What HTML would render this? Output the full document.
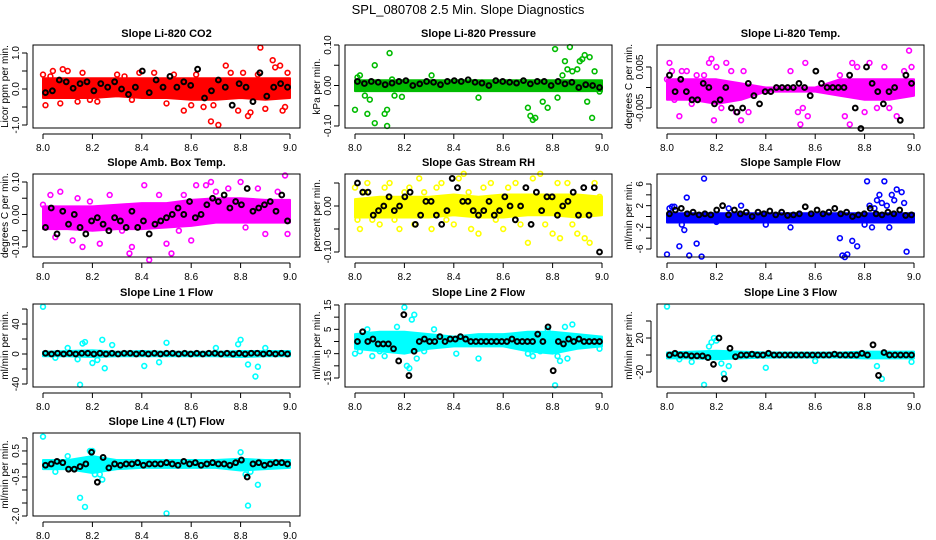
<!DOCTYPE html>
<html><head><meta charset="utf-8"><style>
body{margin:0;background:#fff;}
svg{display:block;font-family:"Liberation Sans",sans-serif;}
</style></head><body>
<svg id="c" width="936" height="540" viewBox="0 0 936 540">
<rect width="936" height="540" fill="#fff"/>
<text x="468" y="14" text-anchor="middle" font-size="13">SPL_080708  2.5 Min. Slope Diagnostics</text>
</svg>
<script>
// ---- data ----
const xTicks=[8.0,8.2,8.4,8.6,8.8,9.0];
const xTickLabels=["8.0","8.2","8.4","8.6","8.8","9.0"];

const co2X=[8.0,8.01,8.03,8.04,8.07,8.08,8.1,8.14,8.16,8.19,8.22,8.3,8.33,8.36,8.39,8.45,8.5,8.53,8.57,8.6,8.62,8.65,8.68,8.69,8.71,8.74,8.76,8.79,8.81,8.83,8.84,8.87,8.88,8.9,8.93,8.94,8.96,8.97,8.98,8.99];
const co2Y=[0.4,-0.45,0.35,0.5,-0.4,0.55,0.5,-0.35,0.45,-0.3,-0.35,0.4,0.35,-0.3,0.45,0.45,-0.4,0.4,-0.6,-0.45,0.4,-0.5,-0.9,-0.45,-1.0,0.65,0.45,-0.6,0.45,-0.75,-0.65,0.4,1.15,-0.55,0.8,0.6,0.65,-0.6,-0.5,0.45];
const co2Black=[-0.1,-0.05,0.25,0.2,0.02,0.15,0.2,-0.05,0.15,0.05,0.2,0,-0.15,0.05,0.5,-0.1,0.25,0.05,0.35,0.05,0.2,0.1,0.55,-0.25,-0.05,0.25,0.05,-0.45,0.15,0.05,-0.35,0.45,-0.2,0.05,0.15,0.05];
const co2Lo=[-0.25,-0.25,-0.25,-0.2,-0.25,-0.25,-0.3,-0.3,-0.25,-0.3,-0.25];
const co2Hi=[0.3,0.3,0.3,0.3,0.3,0.3,0.3,0.3,0.3,0.3,0.3];

const presX=[8.0,8.01,8.02,8.04,8.05,8.06,8.08,8.08,8.12,8.13,8.13,8.14,8.15,8.16,8.19,8.31,8.5,8.7,8.71,8.72,8.73,8.76,8.78,8.81,8.82,8.84,8.85,8.86,8.87,8.88,8.9,8.91,8.92,8.93,8.94,8.95,8.96,8.97,8.99];
const presY=[-0.06,0.02,0.025,-0.025,-0.07,-0.035,0.05,-0.093,-0.07,-0.06,-0.1,0.08,0.015,-0.025,-0.028,0.025,-0.03,-0.055,-0.075,-0.085,-0.08,-0.04,-0.055,0.09,-0.03,0.025,0.06,0.04,0.095,0.035,0.04,0.06,0.065,0.075,-0.04,0.07,-0.08,0.035,-0.015];
const presBlack=[0.01,0.005,0.01,0.008,0.002,0.006,0.01,0.012,0.0,0.004,0.01,0.008,0.002,0.01,0.012,0.01,0.014,0.008,0.006,0,0.012,0.01,0.008,0.006,0.012,0.004,0.01,0.01,0,0.01,0.004,0.008,-0.005,0.002,0.0,-0.005];
const presLo=[-0.014,-0.014,-0.014,-0.014,-0.014,-0.014,-0.014,-0.014,-0.014,-0.014,-0.014];
const presHi=[0.013,0.013,0.013,0.013,0.013,0.013,0.013,0.013,0.013,0.013,0.013];

const ltX=[8.0,8.01,8.02,8.03,8.05,8.06,8.08,8.1,8.12,8.15,8.17,8.18,8.19,8.2,8.22,8.24,8.26,8.28,8.3,8.31,8.33,8.5,8.53,8.54,8.55,8.56,8.57,8.7,8.72,8.74,8.75,8.77,8.8,8.82,8.85,8.88,8.9,8.93,8.96,8.98,8.99];
const ltY=[0.002,0.006,0.004,-0.003,-0.007,0.004,0.004,-0.004,0.003,0.003,0.006,0.007,-0.008,0.005,-0.005,0.006,0.004,-0.006,-0.008,0.004,-0.006,0.004,-0.006,-0.009,-0.005,0.006,-0.007,0.003,-0.007,-0.009,0.006,0.005,-0.006,0.006,-0.005,0.005,-0.005,-0.007,0.004,0.009,0.005];
const ltBlack=[0.003,-0.001,0.002,-0.001,-0.003,-0.003,0.001,0.0,-0.004,-0.003,0.0,-0.005,-0.006,-0.005,0.001,-0.002,-0.004,-0.001,-0.001,0,0,0,0,0.001,0,-0.002,0.004,0.001,0,0,0,0,0.003,-0.005,-0.010,0.005,0.001,-0.001,-0.004,-0.001,0,-0.008,0.003,0.001];
const ltLo=[-0.003,-0.003,-0.004,-0.003,-0.001,-0.001,-0.001,-0.002,-0.003,-0.003,-0.002];
const ltHi=[0.002,0.002,0.002,0.001,0.0,0.0,0.0,0.002,0.002,0.002,0.002];

const ambX=[8.0,8.03,8.05,8.07,8.12,8.14,8.16,8.19,8.23,8.27,8.32,8.35,8.36,8.41,8.43,8.47,8.5,8.52,8.55,8.57,8.6,8.62,8.66,8.68,8.7,8.75,8.8,8.82,8.87,8.9,8.95,8.98,8.99];
const ambY=[0.03,0.06,-0.07,0.07,-0.08,0.05,-0.1,0.04,-0.09,0.06,-0.05,-0.12,-0.1,0.09,-0.14,0.06,-0.09,-0.12,-0.05,0.06,-0.08,0.09,0.09,0.1,0.07,0.08,0.1,-0.04,0.08,-0.06,0.07,0.12,-0.06];
const ambBlack=[-0.04,0.02,-0.06,0.01,-0.03,0.0,-0.04,-0.06,-0.02,-0.01,-0.03,-0.05,-0.01,-0.02,-0.04,0.01,-0.04,-0.02,-0.06,-0.03,-0.02,-0.01,0.0,0.02,0.0,0.04,-0.01,0.0,0.03,0.05,0.04,0.06,0.02,0.04,0.03,0.08,0.01,0.02,0.03,0.04,0.01,0.06,-0.02];
const ambLo=[-0.045,-0.045,-0.05,-0.045,-0.045,-0.04,-0.035,-0.025,-0.025,-0.025,-0.025];
const ambHi=[0.025,0.025,0.025,0.03,0.035,0.035,0.045,0.05,0.05,0.045,0.045];

const rhX=[8.0,8.01,8.02,8.04,8.05,8.07,8.1,8.12,8.14,8.16,8.18,8.2,8.22,8.24,8.26,8.28,8.31,8.33,8.35,8.37,8.4,8.42,8.44,8.46,8.47,8.5,8.52,8.55,8.57,8.6,8.62,8.65,8.67,8.7,8.72,8.75,8.77,8.8,8.82,8.83,8.86,8.88,8.9,8.93,8.95,8.97,8.99];
const rhY=[0.04,-0.03,-0.05,0.03,0.05,-0.03,-0.04,0.04,0.05,-0.03,-0.05,0.03,0.04,-0.04,0.06,0.03,-0.05,0.04,0.05,-0.03,-0.04,0.06,0.07,0.03,-0.05,-0.06,0.04,0.05,-0.03,-0.05,0.04,0.05,-0.04,-0.08,0.06,0.07,-0.04,-0.06,0.05,-0.07,0.05,-0.04,-0.06,-0.07,-0.08,0.05,0.02];
const rhBlack=[0.05,0.03,0.03,-0.02,-0.01,0.0,0.02,-0.01,0.0,0.02,0.03,-0.04,-0.02,0.01,0.01,-0.02,-0.04,-0.01,0.06,0.04,0.01,0.01,-0.01,-0.02,-0.01,0.01,-0.02,-0.01,0.02,0.0,-0.03,0.0,0.04,-0.04,0.03,-0.01,0.02,0.02,-0.02,0.0,0.01,0.03,-0.02,0.04,-0.02,0.04,-0.1];
const rhLo=[-0.025,-0.025,-0.025,-0.025,-0.02,-0.025,-0.025,-0.02,-0.02,-0.025,-0.02];
const rhHi=[0.015,0.02,0.02,0.02,0.025,0.02,0.025,0.025,0.025,0.025,0.02];

const sfX=[8.0,8.01,8.02,8.03,8.05,8.06,8.07,8.08,8.09,8.12,8.14,8.15,8.2,8.25,8.3,8.4,8.5,8.7,8.71,8.72,8.73,8.75,8.77,8.8,8.81,8.82,8.83,8.84,8.85,8.86,8.87,8.88,8.89,8.9,8.91,8.92,8.93,8.95,8.96,8.97];
const sfY=[-7,1.5,1.8,1.8,-5.5,-1.5,-2.5,3.5,-7.2,-5,-7.4,7,-1,1.5,2,-1.5,-2,-4,-7.2,-7.5,-7,-4.5,-5.5,-1.5,6.5,2,-2,1.5,3,4,2.5,6.5,2,-2,4,3,5,4.5,2.5,-6.5];
const sfBlack=[0.5,1.2,1.5,0.5,0.8,0.3,0.5,0.3,1.2,2,0.3,1.2,0.5,0.8,0,0.8,0.5,1,0.3,0.8,0.2,0.3,0.5,1.8,0.5,1.2,0.5,0.8,1.5,0.5,0.8,0,0.3,0.5,1.5,0.5,0.3,0.8,0.5,1.2,0.2,0.3];
const sfLo=[-1.1,-1.1,-1.1,-1.1,-1.1,-1.1,-1.1,-1.1,-1.1,-1.1,-1.1];
const sfHi=[0.6,0.6,0.6,0.6,0.6,0.6,0.6,0.6,0.6,0.6,0.6];

const l1X=[8.0,8.05,8.1,8.14,8.15,8.16,8.17,8.2,8.22,8.24,8.25,8.28,8.41,8.47,8.5,8.7,8.79,8.8,8.83,8.86,8.87,8.9];
const l1Y=[63,-5,8,-7,-41,14,16,-12,-8,19,-19,12,-16,-11,15,8,13,19,-14,-30,-17,8];
const l1Black=[1,0,1,0,1,0,1,1,0,1,0,1,0,1,1,0,1,0,1,0,1,1,0,1,0,1,0,1,1,0,1,0,1,0,1,1,0,1,0,1,0];
const l1Lo=[-3,-3,-4,-3,-3,-3,-3,-3,-4,-3,-3];
const l1Hi=[3,4,5,3,4,3,3,3,4,4,4];

const l2X=[8.0,8.02,8.05,8.07,8.1,8.12,8.15,8.17,8.18,8.2,8.21,8.22,8.23,8.24,8.25,8.28,8.32,8.41,8.5,8.7,8.72,8.75,8.78,8.81,8.82,8.83,8.85,8.86,8.88,8.99];
const l2Y=[-5,-4,5,-6,-4,-6,3,6,3,14,-10,-11,9,11,-7,-4,5,-5,-7,-5,-6,-4,5,-18,-6,-8,6,-7,7,-3];
const l2Black=[0,4,0,1,-1,-1,-1,-3,-8,11,-14,-4,0,1,0,0,2,0,1,1,2,1,0,0,0,0,0,0,0,0,1,0,0,0,0,3,0,6,-12,0,-1,1,0,1,0,0,0,0];
const l2Lo=[-3,-4,-5,-3,-2,-2,-2,-4,-5,-3,-2];
const l2Hi=[3,4,4,3,2,3,3,4,4,3,2];

const l3X=[8.0,8.05,8.1,8.15,8.17,8.18,8.19,8.2,8.22,8.23,8.25,8.4,8.6,8.85,8.87,8.99];
const l3Y=[57,-5,-8,-35,10,15,20,17,-10,-22,-13,-15,-7,-13,-28,-8];
const l3Black=[0,2,0,0,-1,-1,-1,-3,-11,20,-28,8,-2,0,0,1,0,0,2,0,0,0,0,0,0,0,0,0,0,0,1,0,0,0,0,2,0,12,-24,3,0,0,0,0,0];
const l3Lo=[-4,-4,-5,-4,-3,-3,-3,-3,-4,-4,-4];
const l3Hi=[3,4,5,4,3,3,3,3,4,4,4];

const l4X=[8.0,8.05,8.1,8.15,8.16,8.17,8.19,8.2,8.21,8.23,8.24,8.5,8.8,8.82,8.83,8.84,8.87];
const l4Y=[1.05,-0.3,0.3,-1.3,0.1,-1.65,0.5,0.5,-0.4,-0.4,-0.6,-1.9,0.45,-0.4,-1.6,-0.3,-0.8];
const l4Black=[-0.05,0,0.1,0.05,-0.2,-0.2,-0.1,0,0.45,-0.7,0.25,-0.15,0,-0.05,0,0,0.05,-0.05,0,0,0,0.05,0,-0.05,0.1,0,0.05,-0.05,0,0.05,0,0,-0.05,0.05,0.15,-0.5,0,0.05,-0.05,0,0.05,0.05,0];
const l4Lo=[-0.2,-0.2,-0.35,-0.2,-0.15,-0.15,-0.15,-0.15,-0.25,-0.2,-0.15];
const l4Hi=[0.15,0.15,0.3,0.15,0.15,0.15,0.15,0.15,0.2,0.15,0.15];

// ---- layout ----
const colL=[33,345,657], colR=[300,612,924];
const rowT=[45,174,304,433], boxH=83;
const panels=[
 {name:"co2",title:"Slope Li-820 CO2",yt:"Licor ppm per min.",c:0,r:0,lo:-1.083,hi:1.222,ticks:[-1,-0.5,0,0.5,1],labels:{"-1":"-1.0","0":"0.0","1":"1.0"},col:"#ff0000",px:co2X,py:co2Y,bk:co2Black,bl:co2Lo,bh:co2Hi},
 {name:"pressure",title:"Slope Li-820 Pressure",yt:"kPa per min.",c:1,r:0,lo:-0.105,hi:0.1,ticks:[-0.1,-0.05,0,0.05,0.1],labels:{"-0.1":"-0.10","0":"0.00","0.1":"0.10"},col:"#00bb00",px:presX,py:presY,bk:presBlack,bl:presLo,bh:presHi},
 {name:"li-temp",title:"Slope Li-820 Temp.",yt:"degrees C per min.",c:2,r:0,lo:-0.00988,hi:0.01037,ticks:[-0.005,0,0.005],labels:{"-0.005":"-0.005","0.005":"0.005"},col:"#ff00ff",px:ltX,py:ltY,bk:ltBlack,bl:ltLo,bh:ltHi},
 {name:"amb-box-temp",title:"Slope Amb. Box Temp.",yt:"degrees C per min.",c:0,r:1,lo:-0.131,hi:0.1246,ticks:[-0.1,-0.05,0,0.05,0.1],labels:{"-0.1":"-0.10","0":"0.00","0.1":"0.10"},col:"#ff00ff",px:ambX,py:ambY,bk:ambBlack,bl:ambLo,bh:ambHi},
 {name:"gas-stream-rh",title:"Slope Gas Stream RH",yt:"percent per min.",c:1,r:1,lo:-0.1109,hi:0.0696,ticks:[-0.1,-0.05,0,0.05],labels:{"-0.1":"-0.10","0":"0.00"},col:"#ffff00",px:rhX,py:rhY,bk:rhBlack,bl:rhLo,bh:rhHi},
 {name:"sample-flow",title:"Slope Sample Flow",yt:"ml/min per min.",c:2,r:1,lo:-7.48,hi:7.85,ticks:[-6,-4,-2,0,2,4,6],labels:{"-6":"-6","-2":"-2","2":"2","6":"6"},col:"#0000ff",px:sfX,py:sfY,bk:sfBlack,bl:sfLo,bh:sfHi},
 {name:"line1-flow",title:"Slope Line 1 Flow",yt:"ml/min per min.",c:0,r:2,lo:-44,hi:66.7,ticks:[-40,-20,0,20,40,60],labels:{"-40":"-40","0":"0","40":"40"},col:"#00ffff",px:l1X,py:l1Y,bk:l1Black,bl:l1Lo,bh:l1Hi},
 {name:"line2-flow",title:"Slope Line 2 Flow",yt:"ml/min per min.",c:1,r:2,lo:-18.7,hi:15.4,ticks:[-15,-10,-5,0,5,10,15],labels:{"-15":"-15","-5":"-5","5":"5","15":"15"},col:"#00ffff",px:l2X,py:l2Y,bk:l2Black,bl:l2Lo,bh:l2Hi},
 {name:"line3-flow",title:"Slope Line 3 Flow",yt:"ml/min per min.",c:2,r:2,lo:-37.6,hi:60,ticks:[-20,0,20,40],labels:{"-20":"-20","20":"20"},col:"#00ffff",px:l3X,py:l3Y,bk:l3Black,bl:l3Lo,bh:l3Hi},
 {name:"line4-flow",title:"Slope Line 4 (LT) Flow",yt:"ml/min per min.",c:0,r:3,lo:-2.0,hi:1.19,ticks:[-2,-1.5,-1,-0.5,0,0.5,1],labels:{"-2":"-2.0","-0.5":"-0.5","0.5":"0.5"},col:"#00ffff",px:l4X,py:l4Y,bk:l4Black,bl:l4Lo,bh:l4Hi}
];
const NS="http://www.w3.org/2000/svg";
const svg=document.getElementById('c');
function mk(tag,attrs,parent){const e=document.createElementNS(NS,tag);for(const k in attrs)e.setAttribute(k,attrs[k]);(parent||svg).appendChild(e);return e;}

panels.forEach(p=>{
 const L=colL[p.c],R=colR[p.c],T=rowT[p.r],B=T+boxH;
 const x0=L+10,x1=R-10;
 const X=v=>x0+(v-8)*(x1-x0);
 const Y=v=>B-(v-p.lo)/(p.hi-p.lo)*boxH;
 const g=mk('g',{});
 
 
 const t=mk('text',{x:(L+R)/2,y:T-8,'text-anchor':'middle','font-size':'11','font-weight':'bold'},g);
 t.textContent=p.title;
 
 
 let pts=[];
 p.bh.forEach((v,i)=>pts.push(X(8+i/10)+','+Y(v)));
 for(let i=p.bl.length-1;i>=0;i--)pts.push(X(8+i/10)+','+Y(p.bl[i]));
 const band=mk('polygon',{points:pts.join(' '),fill:p.col,stroke:p.col,'stroke-width':2,'stroke-linejoin':'round'},g);
 
 
 p.px.forEach((xv,i)=>{
  const c=mk('circle',{cx:X(xv),cy:Y(p.py[i]),r:2.4,fill:'none',stroke:p.col,'stroke-width':1.6},g);
  
  
 });
 const n=p.bk.length;
 p.bk.forEach((v,i)=>{
  const c=mk('circle',{cx:X(8.01+0.98*i/(n-1)),cy:Y(v),r:2.4,fill:'none',stroke:'#000','stroke-width':2},g);
  
  
 });
 const box=mk('rect',{x:L,y:T,width:R-L,height:boxH,fill:'none',stroke:'#000','stroke-width':1},g);
 
 
 const xa=mk('g',{},g);
 
 
 mk('line',{x1:X(8),x2:X(9),y1:B+6,y2:B+6,stroke:'#000'},xa);
 xTicks.forEach((v,i)=>{
  mk('line',{x1:X(v),x2:X(v),y1:B+6,y2:B+11,stroke:'#000'},xa);
  const tl=mk('text',{x:X(v),y:B+23,'text-anchor':'middle','font-size':'10'},xa);
  tl.textContent=xTickLabels[i];
 });
 const ya=mk('g',{},g);
 
 
 const tt=p.ticks;
 mk('line',{x1:L-6,x2:L-6,y1:Y(tt[0]),y2:Y(tt[tt.length-1]),stroke:'#000'},ya);
 tt.forEach(v=>{
  mk('line',{x1:L-11,x2:L-6,y1:Y(v),y2:Y(v),stroke:'#000'},ya);
  const lab=p.labels[String(v)];
  if(lab!==undefined){
   const tl=mk('text',{x:L-14,y:Y(v),'text-anchor':'middle','font-size':'10',transform:`rotate(-90 ${L-14} ${Y(v)})`},ya);
   tl.textContent=lab;
  }
 });
 const yt=mk('text',{x:L-25,y:T+boxH/2,'text-anchor':'middle','font-size':'10',transform:`rotate(-90 ${L-25} ${T+boxH/2})`},g);
 yt.textContent=p.yt;
 
 
});
</script>
</body></html>
